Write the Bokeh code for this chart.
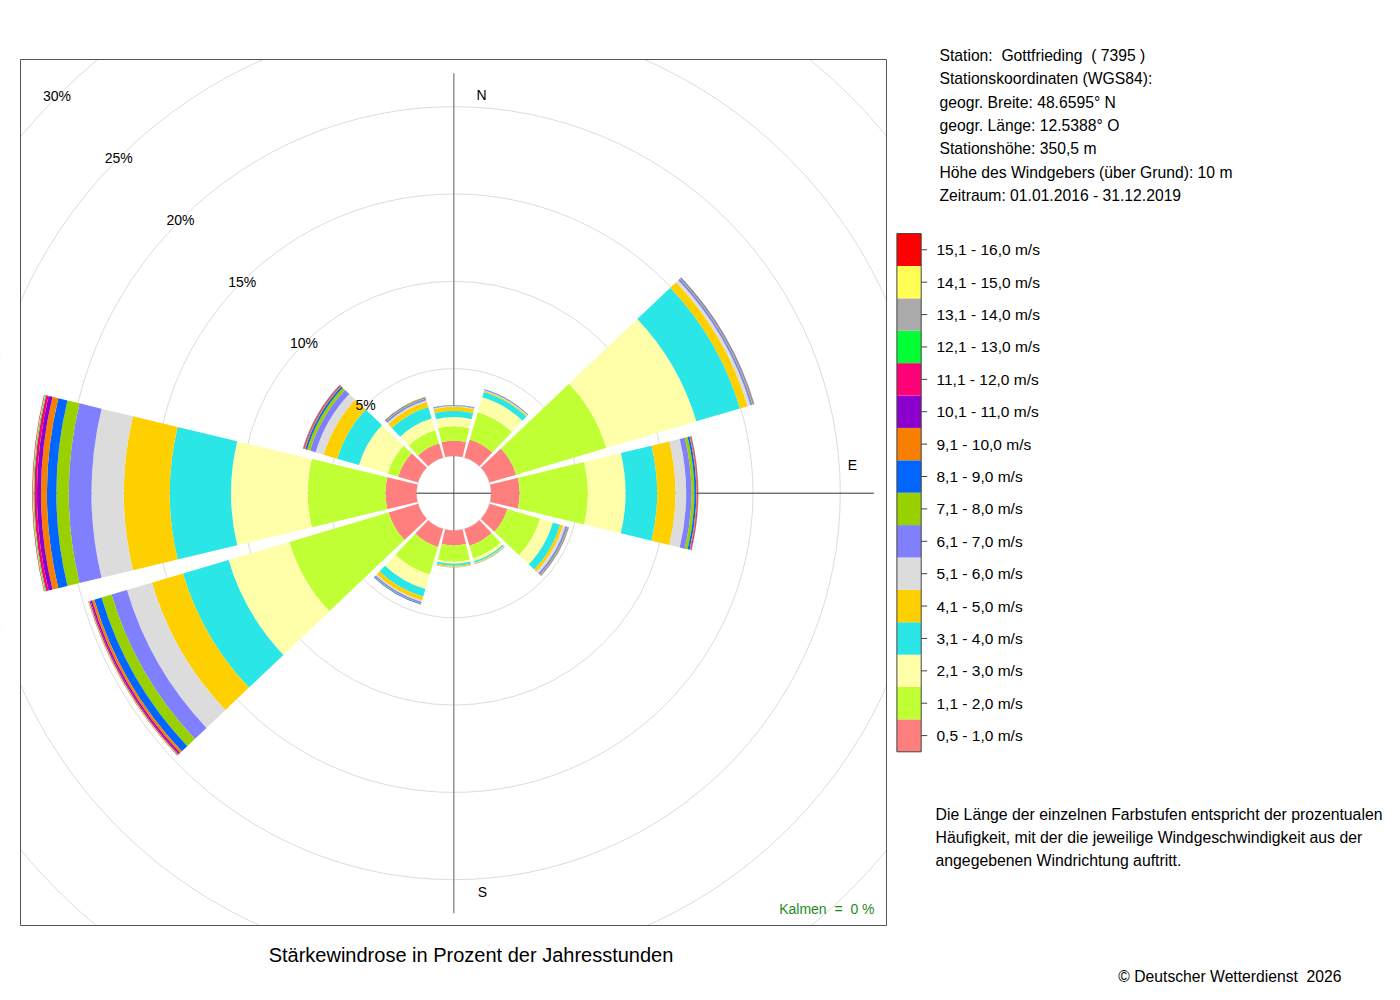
import math
from bokeh.plotting import figure
from bokeh.models import Range1d, ColumnDataSource
from bokeh.embed import file_html
from bokeh.resources import INLINE
from bokeh.core.properties import value

# ---------------- data ----------------
direction_deg = [0, 30, 60, 90, 120, 150, 180, 210, 240, 270, 300, 330]
direction_names = ["N", "E", "S"]

speed_classes = ["0,5 - 1,0 m/s", "1,1 - 2,0 m/s", "2,1 - 3,0 m/s", "3,1 - 4,0 m/s",
                 "4,1 - 5,0 m/s", "5,1 - 6,0 m/s", "6,1 - 7,0 m/s", "7,1 - 8,0 m/s",
                 "8,1 - 9,0 m/s", "9,1 - 10,0 m/s", "10,1 - 11,0 m/s", "11,1 - 12,0 m/s",
                 "12,1 - 13,0 m/s", "13,1 - 14,0 m/s", "14,1 - 15,0 m/s", "15,1 - 16,0 m/s"]
class_colors = ["#FF7F7F", "#BFFF33", "#FFFFAA", "#2BE6E6", "#FFD000", "#DCDCDC",
                "#8080FF", "#99D100", "#0066FF", "#F88000", "#8B00CC", "#FF0077",
                "#00FF33", "#AAAAAA", "#FFFF55", "#FF0000"]

# percent of hours per speed class (0,5-1,0 ... 15,1-16,0 m/s) for each direction sector
sec_000 = [0.87, 0.83, 0.52, 0.37, 0.22, 0.04, 0.03, 0.02, 0.02, 0, 0, 0, 0, 0, 0, 0]
sec_030 = [1.07, 1.63, 0.89, 0.32, 0.07, 0.03, 0.03, 0.01, 0.02, 0, 0, 0, 0, 0, 0, 0]
sec_060 = [1.59, 5.38, 5.38, 2.61, 0.46, 0.17, 0.11, 0.05, 0.03, 0.02, 0.01, 0.01, 0, 0, 0, 0]
sec_090 = [1.64, 3.90, 2.16, 1.81, 1.05, 0.61, 0.30, 0.17, 0.11, 0.06, 0.03, 0.02, 0.01, 0, 0, 0]
sec_120 = [1.07, 1.95, 0.77, 0.43, 0.17, 0.15, 0.11, 0.05, 0.02, 0.02, 0.01, 0, 0, 0, 0, 0]
sec_150 = [1.01, 0.75, 0.17, 0.09, 0.04, 0.02, 0.02, 0.01, 0, 0, 0, 0, 0, 0, 0, 0]
sec_180 = [0.86, 0.93, 0.11, 0.12, 0.07, 0.02, 0.01, 0, 0, 0, 0, 0, 0, 0, 0, 0]
sec_210 = [1.07, 1.66, 0.86, 0.46, 0.23, 0.08, 0.09, 0.03, 0.03, 0.01, 0, 0, 0, 0, 0, 0]
sec_240 = [1.76, 5.93, 3.63, 2.72, 1.86, 1.49, 0.92, 0.60, 0.43, 0.14, 0.09, 0.06, 0.03, 0.01, 0.01, 0.02]
sec_270 = [1.78, 4.45, 4.39, 3.51, 2.63, 1.85, 1.30, 0.71, 0.54, 0.34, 0.23, 0.15, 0.05, 0.02, 0.02, 0.03]
sec_300 = [1.19, 0.63, 1.71, 1.30, 0.80, 0.49, 0.33, 0.18, 0.11, 0.07, 0.03, 0.03, 0.01, 0.01, 0, 0]
sec_330 = [0.84, 0.79, 0.70, 0.69, 0.30, 0.10, 0.10, 0.05, 0.03, 0.02, 0, 0, 0, 0, 0, 0]
sector_values = [sec_000, sec_030, sec_060, sec_090, sec_120, sec_150,
                 sec_180, sec_210, sec_240, sec_270, sec_300, sec_330]

ring_pct = [5, 10, 15, 20, 25, 30]
ring_labels = ["5%", "10%", "15%", "20%", "25%", "30%"]

NB = "\u00a0"
station_lines = ["Station:" + NB + " Gottfrieding" + NB + " ( 7395 )",
                 "Stationskoordinaten (WGS84):",
                 "geogr. Breite: 48.6595\u00b0 N",
                 "geogr. L\u00e4nge: 12.5388\u00b0 O",
                 "Stationsh\u00f6he: 350,5 m",
                 "H\u00f6he des Windgebers (\u00fcber Grund): 10 m",
                 "Zeitraum: 01.01.2016 - 31.12.2019"]
note_lines = ["Die L\u00e4nge der einzelnen Farbstufen entspricht der prozentualen",
              "H\u00e4ufigkeit, mit der die jeweilige Windgeschwindigkeit aus der",
              "angegebenen Windrichtung auftritt."]
title_text = "St\u00e4rkewindrose in Prozent der Jahresstunden"
calm_text = "Kalmen" + NB + " =" + NB + " 0 %"
copyright_text = "\u00a9 Deutscher Wetterdienst" + NB + " 2026"

# ---------------- geometry ----------------
PX = 17.46            # pixels per percent
HOLE = 37.3 / PX      # empty centre radius (percent units)
HALF = 13.5           # half width of a sector, degrees
W, H = 1392, 992
CX, CY = 453.3, 492.7  # rose centre in figure pixels
FONT = value("Liberation Sans")

p = figure(width=W, height=H,
           x_range=Range1d(-CX / PX, (W - CX) / PX),
           y_range=Range1d(-(H - CY) / PX, CY / PX),
           output_backend="svg", toolbar_location=None,
           x_axis_type=None, y_axis_type=None, min_border=0,
           outline_line_color=None, background_fill_color="white",
           border_fill_color="white")
p.grid.visible = False
p.extra_x_ranges = {"px": Range1d(0, W)}
p.extra_y_ranges = {"px": Range1d(H, 0)}
PXR = dict(x_range_name="px", y_range_name="px")

# grid circles
radii = [HOLE] + [HOLE + r for r in ring_pct]
p.circle(x=[0] * len(radii), y=[0] * len(radii), radius=radii,
         fill_color=None, line_color="#DCDCDC", line_width=1)

# axis lines
AX = 420 / PX
p.segment(x0=[0, -AX], y0=[-AX, 0], x1=[0, AX], y1=[AX, 0],
          line_color=["#8a8a8a", "#333333"], line_width=[1.4, 1])

# masks outside the plot box
BL, BR, BT, BB = 20, 886, 59, 925
E = 30
p.quad(left=[-E, BR, -E, -E], right=[BL, W + E, W + E, W + E],
       top=[-E, -E, -E, BB], bottom=[H + E, H + E, BT, H + E],
       fill_color="white", line_color=None, **PXR)
p.quad(left=[BL], right=[BR], top=[BT], bottom=[BB],
       fill_color=None, line_color="#555555", line_width=1, **PXR)

# wedges
inner, outer, start, end, col = [], [], [], [], []
for b, vals in zip(direction_deg, sector_values):
    cum = 0.0
    for j, v in enumerate(vals):
        if v <= 0:
            continue
        inner.append(HOLE + cum)
        cum += v
        outer.append(HOLE + cum)
        start.append(math.radians(90 - b - HALF))
        end.append(math.radians(90 - b + HALF))
        col.append(class_colors[j])
src = ColumnDataSource(dict(inner=inner, outer=outer, start=start, end=end, color=col))
p.annular_wedge(x=0, y=0, inner_radius="inner", outer_radius="outer",
                start_angle="start", end_angle="end", fill_color="color",
                line_color=None, source=src)

# ring labels along the NW diagonal
c45 = math.cos(math.radians(45))
p.text(x=[-(HOLE + r) * c45 for r in ring_pct], y=[(HOLE + r) * c45 for r in ring_pct],
       text=ring_labels, text_font=FONT, text_font_size=value("14px"),
       text_align="center", text_baseline="middle", text_color="black")

# direction letters
p.text(x=[481, 852, 482], y=[94, 464, 891], text=direction_names, text_font=FONT,
       text_font_size=value("14px"), text_align="center", text_baseline="middle",
       text_color="black", **PXR)

# calm text
p.text(x=[874], y=[908], text=[calm_text], text_font=FONT, text_font_size=value("14px"),
       text_align="right", text_baseline="middle", text_color="#1E8B1E", **PXR)

# legend
LX0, LX1, LY0, LY1 = 896.4, 920.7, 233.1, 751.3
n = len(speed_classes)
step = (LY1 - LY0) / n
tops = [LY0 + (n - 1 - j) * step for j in range(n)]
p.quad(left=[LX0] * n, right=[LX1] * n, top=tops, bottom=[t + step for t in tops],
       fill_color=class_colors, line_color=None, **PXR)
p.quad(left=[LX0], right=[LX1], top=[LY0], bottom=[LY1], fill_color=None,
       line_color="#444444", line_width=1, **PXR)
mids = [t + step / 2 for t in tops]
p.segment(x0=[LX1] * n, y0=mids, x1=[LX1 + 6] * n, y1=mids, line_color="#444444",
          line_width=1, **PXR)
p.text(x=[936] * n, y=mids, text=speed_classes, text_font=FONT,
       text_font_size=value("15.5px"), text_align="left", text_baseline="middle",
       text_color="black", **PXR)

# station info
p.text(x=[939] * len(station_lines), y=[55 + 23.3 * i for i in range(len(station_lines))],
       text=station_lines, text_font=FONT, text_font_size=value("15.7px"),
       text_align="left", text_baseline="middle", text_color="black", **PXR)

# note
p.text(x=[935] * len(note_lines), y=[814 + 23 * i for i in range(len(note_lines))],
       text=note_lines, text_font=FONT, text_font_size=value("15.8px"),
       text_align="left", text_baseline="middle", text_color="black", **PXR)

# title and copyright
p.text(x=[470.5], y=[954], text=[title_text], text_font=FONT, text_font_size=value("20px"),
       text_align="center", text_baseline="middle", text_color="black", **PXR)
p.text(x=[1341], y=[976], text=[copyright_text], text_font=FONT,
       text_font_size=value("15.7px"), text_align="right", text_baseline="middle",
       text_color="black", **PXR)

open("out.html", "w").write(file_html(p, INLINE))
